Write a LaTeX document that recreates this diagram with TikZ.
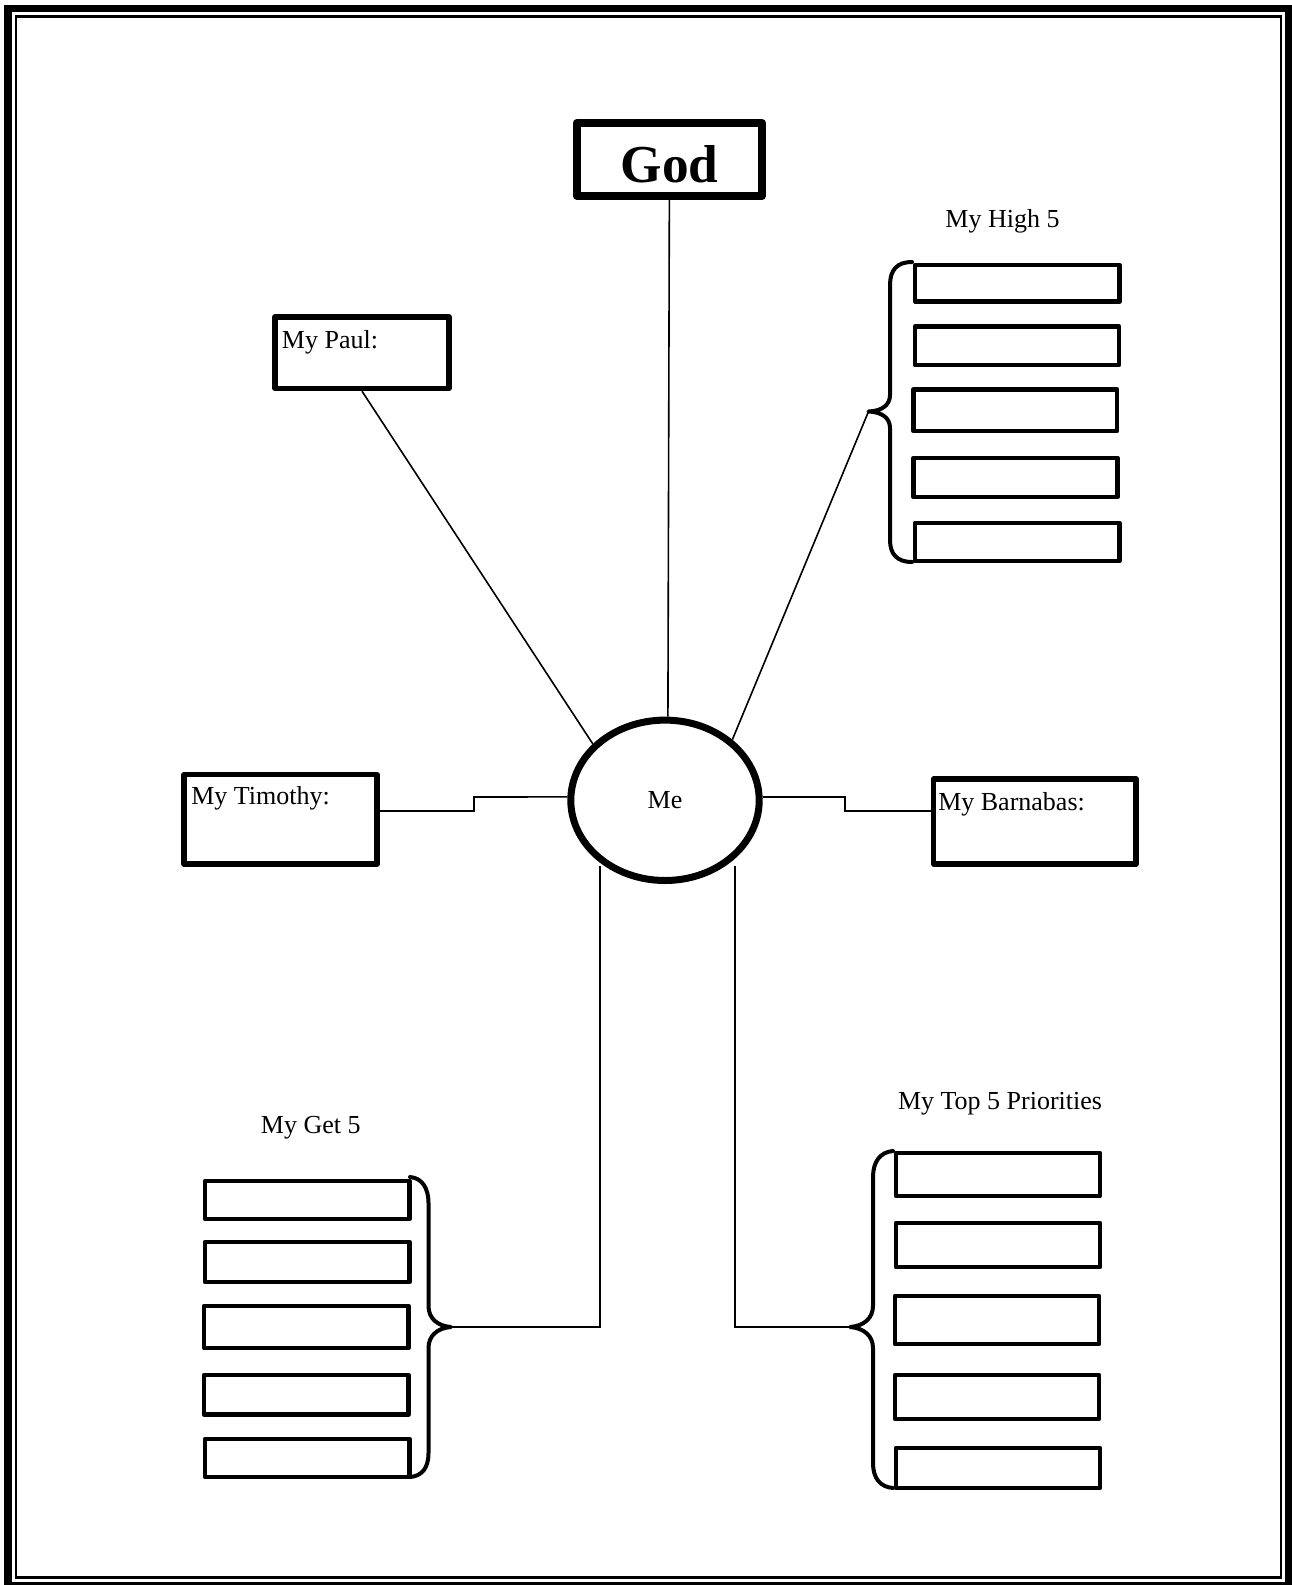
\documentclass[tikz,border=0pt]{standalone}
\usepackage{fontspec}
\setmainfont{Liberation Serif}
\usetikzlibrary{shapes.geometric}
\newcommand\rbox[6]{%
  \pgfmathsetmacro\rbcx{(#2+#4)/2}%
  \pgfmathsetmacro\rbcy{(#3+#5)/2}%
  \pgfmathsetmacro\rbw{(#4-#2)*0.75}%
  \pgfmathsetmacro\rbh{(#5-#3)*0.75}%
  \node[#6, minimum width=\rbw pt, minimum height=\rbh pt] (#1) at (\rbcx,\rbcy) {};}
\tikzset{
  godbox/.style={draw, line width=6pt, line join=round, inner sep=0pt},
  txtbox/.style={draw, line width=4pt, line join=round, inner sep=0pt},
  listbox/.style={draw, line width=3.4pt, line join=round, inner sep=0pt},
  conn/.style={draw, line width=1.2pt},
  bracepath/.style={draw, line width=3pt, line cap=round, line join=round},
  lbl/.style={inner sep=0pt, font=\fontsize{19.5}{23}\selectfont},
}
\begin{document}
\begin{tikzpicture}[x=0.75pt,y=-0.75pt]
\useasboundingbox (0,0) rectangle (1292,1585);
% page border
\draw[line width=5.6pt] (8,8.5) rectangle (1288.5,1586);
\draw[line width=1.9pt] (16,16.5) rectangle (1281,1577.5);

% God
\rbox{god}{576.7}{123}{762}{196}{godbox}
\node[inner sep=0pt, anchor=base, font=\fontsize{40}{44}\selectfont\bfseries] (godt) at (669.5,182.7) {God};

% Me
\node[draw, ellipse, line width=5.25pt, inner sep=0pt,
      minimum width=141.3pt, minimum height=120.3pt,
      font=\fontsize{19.5}{23}\selectfont] (me) at (665,800.3) {Me};

% Paul
\rbox{paul}{275}{317}{449}{388.5}{txtbox}
\node[lbl, anchor=base west] (pault) at (281.7,348.3) {My Paul:};
% Timothy
\rbox{tim}{184}{774.5}{377}{864}{txtbox}
\node[lbl, anchor=base west] (timt) at (191,804) {My Timothy:};
% Barnabas
\rbox{barn}{933.5}{779}{1136}{864}{txtbox}
\node[lbl, anchor=base west] (barnt) at (938,810) {My Barnabas:};

% High 5
\node[lbl, anchor=base] (h5t) at (1002.5,227.3) {My High 5};
\rbox{h1}{915}{265}{1119.5}{301.5}{listbox}
\rbox{h2}{915}{326.5}{1119}{365}{listbox}
\rbox{h3}{913.5}{389.5}{1117}{431}{listbox}
\rbox{h4}{913.5}{458}{1117.5}{497}{listbox}
\rbox{h5}{915}{523}{1119.5}{561}{listbox}
\coordinate (h5tip) at (868.5,411.5);
\path[bracepath] (912,262) .. controls (897,262) and (890,270) .. (890,285) -- (890,395)
  .. controls (890,405) and (882,411) .. (h5tip)
  .. controls (882,412) and (890,418) .. (890,428) -- (890,540)
  .. controls (890,554) and (897,562) .. (912,562);

% Get 5
\node[lbl, anchor=base] (g5t) at (310.8,1133) {My Get 5};
\rbox{g1}{205}{1181}{409.5}{1219}{listbox}
\rbox{g2}{205}{1242}{409.5}{1282}{listbox}
\rbox{g3}{204}{1306}{408.5}{1348}{listbox}
\rbox{g4}{204}{1375}{408.5}{1414.5}{listbox}
\rbox{g5}{205}{1439}{409.5}{1477}{listbox}
\coordinate (g5tip) at (451,1327);
\path[bracepath] (410,1177) .. controls (422,1178) and (428.5,1188) .. (428.5,1203) -- (428.5,1306)
  .. controls (428.5,1318) and (437,1326) .. (g5tip)
  .. controls (437,1328) and (428.5,1336) .. (428.5,1348) -- (428.5,1453)
  .. controls (428.5,1468) and (422,1476) .. (410,1477);

% Top 5 Priorities
\node[lbl, anchor=base] (t5t) at (1000,1109.3) {My Top 5 Priorities};
\rbox{t1}{896}{1153}{1100}{1196}{listbox}
\rbox{t2}{896}{1223}{1100}{1267}{listbox}
\rbox{t3}{895}{1296}{1099}{1344}{listbox}
\rbox{t4}{895}{1375}{1099}{1419}{listbox}
\rbox{t5}{896}{1448}{1100}{1488}{listbox}
\coordinate (t5tip) at (850,1327);
\path[bracepath] (893,1151) .. controls (880,1152) and (873,1162) .. (873,1177) -- (873,1306)
  .. controls (873,1318) and (864,1326) .. (t5tip)
  .. controls (864,1328) and (873,1336) .. (873,1348) -- (873,1463)
  .. controls (873,1478) and (880,1487) .. (893,1488);

% connectors
\coordinate (tl) at (0,811);
\coordinate (bl) at (0,866);
\coordinate (tstep) at (474,797);
\coordinate (bstep) at (845,811);
\path[conn] (god.south) -- (me.88);
\path[conn] (paul.south) -- (me.142);
\path[conn] (me.42) -- (h5tip);
\path[conn] (tim.east |- tl) -- (tstep |- tl) -- (tstep) -- (me.178);
\path[conn] (me.2) -- (bstep |- me.2) -- (bstep) -- (barn.west |- bstep);
\path[conn] (me.224 |- bl) |- (g5tip);
\path[conn] (me.320 |- bl) |- (t5tip);
\end{tikzpicture}
\end{document}
